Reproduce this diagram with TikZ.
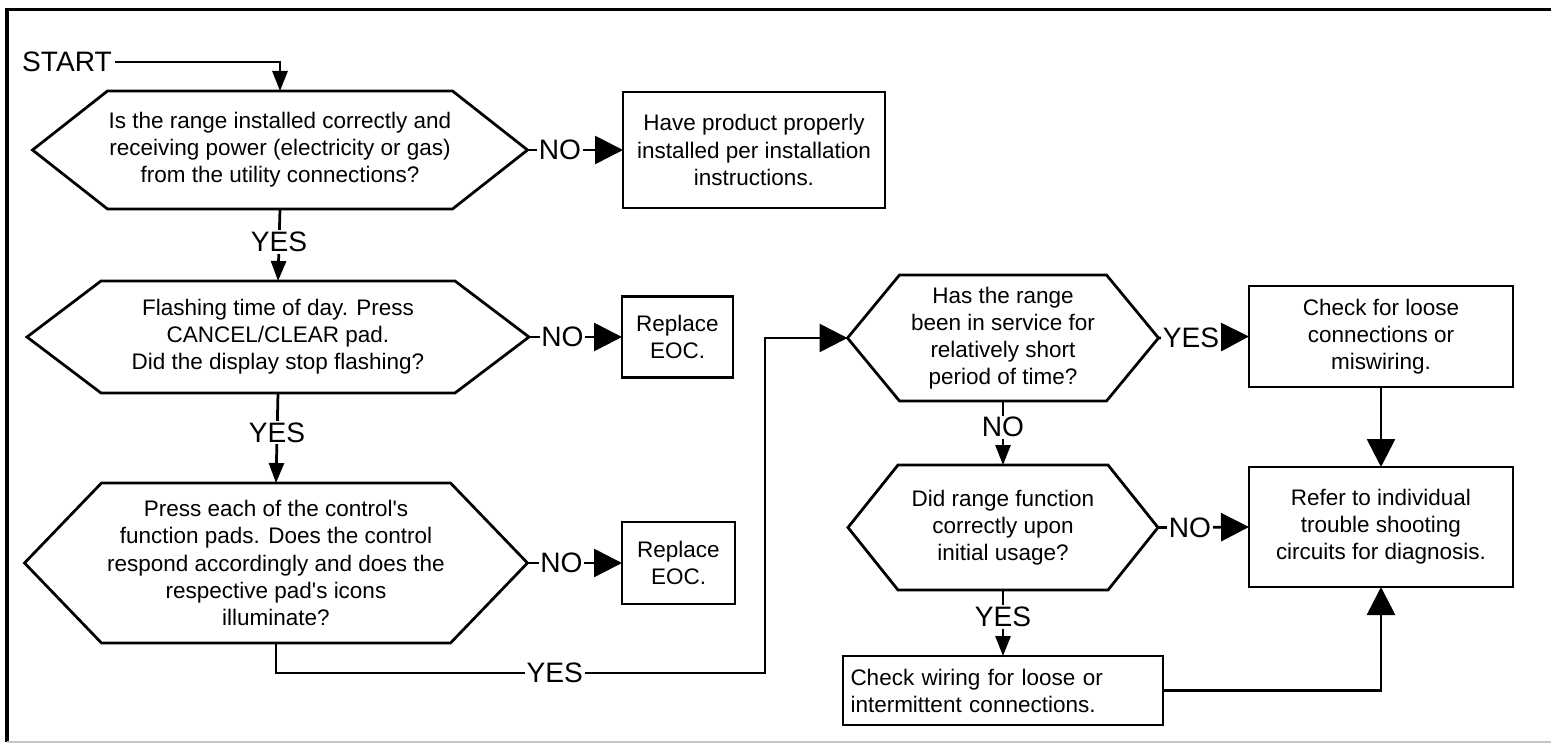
\documentclass[tikz,border=0pt]{standalone}
\usepackage{fontspec}
\setmainfont{Liberation Sans}
\usepackage{tikz}
\usetikzlibrary{arrows.meta}
\tikzset{>={Triangle[length=5.6mm,width=5.6mm]}}
\tikzset{
	smallarr/.style={-{Triangle[length=4mm,width=3mm]}},
	box/.style={draw,align=center,inner sep=0pt,outer sep=0pt},
	ques/.style={align=center,inner sep=0pt,outer sep=0pt},
	lbl/.style={fill=white,inner sep=1pt,font=\fontsize{16}{19}\selectfont}
}
\newcommand{\drawhex}[2]{\draw (#1.west) -- ([xshift=#2]#1.north west) -- ([xshift=-#2]#1.north east) -- (#1.east) -- ([xshift=-#2]#1.south east) -- ([xshift=#2]#1.south west) -- cycle;}

\begin{document}
\begin{tikzpicture}[line width=0.55mm,font=\fontsize{12.8}{15.4}\selectfont]
	\useasboundingbox (0,0) rectangle (31.02,-14.9);
	\draw[line width=0.6mm] (31.02,-0.2) -- (0.14,-0.2) -- (0.14,-14.84);
	\draw[gray!45,line width=0.4mm] (0.14,-14.84) -- (31.02,-14.84);

	\node[lbl,fill=none] (start) at (1.34,-1.24) {START};
	\node[ques,minimum width=9.9cm,minimum height=2.36cm] (q1) at (5.6,-3.0) {Is the range installed correctly and\\receiving power (electricity or gas)\\from the utility connections?};
	\node[ques,minimum width=10.04cm,minimum height=2.24cm] (q2) at (5.56,-6.74) {Flashing time of day. Press\\CANCEL/CLEAR pad.\\Did the display stop flashing?};
	\node[ques,minimum width=10.06cm,minimum height=3.2cm] (q3) at (5.52,-11.26) {Press each of the control\textquotesingle s\\function pads. Does the control\\respond accordingly and does the\\respective pad\textquotesingle s icons\\illuminate?};
	\node[ques,minimum width=6.22cm,minimum height=2.52cm] (q4) at (20.06,-6.76) {Has the range\\been in service for\\relatively short\\period of time?};
	\node[ques,minimum width=6.2cm,minimum height=2.5cm] (q5) at (20.06,-10.55) {Did range function\\correctly upon\\initial usage?};
	\drawhex{q1}{1.5cm}
	\drawhex{q2}{1.48cm}
	\drawhex{q3}{1.54cm}
	\drawhex{q4}{1.04cm}
	\drawhex{q5}{1.0cm}

	\node[box,minimum width=5.24cm,minimum height=2.32cm] (a1) at (15.08,-3.0) {Have product properly\\installed per installation\\instructions.};
	\node[box,minimum width=2.22cm,minimum height=1.62cm] (r2) at (13.55,-6.74) {Replace\\EOC.};
	\node[box,minimum width=2.26cm,minimum height=1.64cm] (r3) at (13.57,-11.26) {Replace\\EOC.};
	\node[box,minimum width=5.28cm,minimum height=2.02cm] (c4) at (27.62,-6.73) {Check for loose\\connections or\\miswiring.};
	\node[box,minimum width=5.28cm,minimum height=2.4cm] (rf) at (27.62,-10.54) {Refer to individual\\trouble shooting\\circuits for diagnosis.};
	\node[box,align=left,minimum width=6.4cm,minimum height=1.38cm,text width=6.1cm] (cw) at (20.06,-13.81) {Check wiring for loose or\\intermittent connections.};
	\coordinate (turn) at (15.3,-13.46);

	\draw[smallarr] (start.east) -| (q1.north);
	\draw[->] (q1.east) -- node[lbl,pos=0.34] (n1) {NO} (a1.west);
	\draw[smallarr] (q1.south) -- node[lbl,pos=0.46] (y1) {YES} (q2.north);
	\draw[->] (q2.east) -- node[lbl,pos=0.36] (n2) {NO} (r2.west);
	\draw[smallarr] (q2.south) -- node[lbl,pos=0.44] (y2) {YES} (q3.north);
	\draw[->] (q3.east) -- node[lbl,pos=0.36] (n3) {NO} (r3.west);
	\draw[->] (q3.south) |- node[lbl,pos=0.785] (y3) {YES} (turn) |- (q4.west);
	\draw[->] (q4.east) -- node[lbl,pos=0.36] (y4) {YES} (c4.west);
	\draw[smallarr] (q4.south) -- node[lbl,pos=0.41] (n4) {NO} (q5.north);
	\draw[->] (q5.east) -- node[lbl,pos=0.35] (n5) {NO} (rf.west);
	\draw[smallarr] (q5.south) -- node[lbl,pos=0.41] (y5) {YES} (cw.north);
	\draw[->] (c4.south) -- (rf.north);
	\draw[->] (cw.east) -| (rf.south);
\end{tikzpicture}
\end{document}
